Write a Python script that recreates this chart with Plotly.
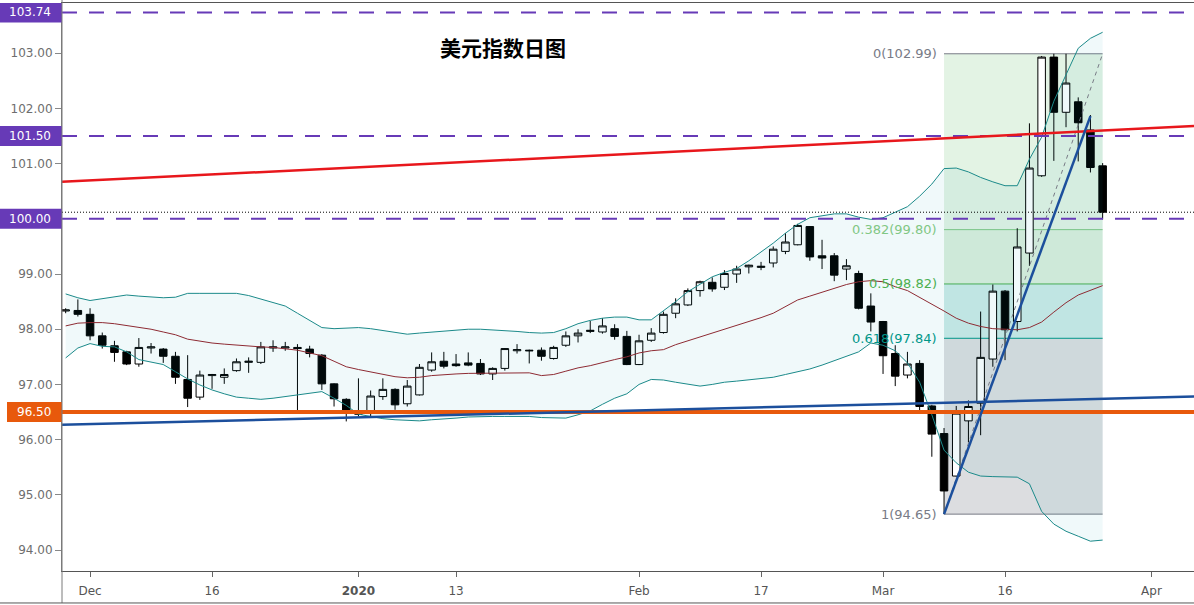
import plotly.graph_objects as go

# ---------------- data ----------------
dates = [
    "2019-11-28", "2019-11-29",
    "2019-12-02", "2019-12-03", "2019-12-04", "2019-12-05", "2019-12-06",
    "2019-12-09", "2019-12-10", "2019-12-11", "2019-12-12", "2019-12-13",
    "2019-12-16", "2019-12-17", "2019-12-18", "2019-12-19", "2019-12-20",
    "2019-12-23", "2019-12-24", "2019-12-25", "2019-12-26", "2019-12-27",
    "2019-12-30", "2019-12-31",
    "2020-01-01", "2020-01-02", "2020-01-03",
    "2020-01-06", "2020-01-07", "2020-01-08", "2020-01-09", "2020-01-10",
    "2020-01-13", "2020-01-14", "2020-01-15", "2020-01-16", "2020-01-17",
    "2020-01-20", "2020-01-21", "2020-01-22", "2020-01-23", "2020-01-24",
    "2020-01-27", "2020-01-28", "2020-01-29", "2020-01-30", "2020-01-31",
    "2020-02-03", "2020-02-04", "2020-02-05", "2020-02-06", "2020-02-07",
    "2020-02-10", "2020-02-11", "2020-02-12", "2020-02-13", "2020-02-14",
    "2020-02-17", "2020-02-18", "2020-02-19", "2020-02-20", "2020-02-21",
    "2020-02-24", "2020-02-25", "2020-02-26", "2020-02-27", "2020-02-28",
    "2020-03-02", "2020-03-03", "2020-03-04", "2020-03-05", "2020-03-06",
    "2020-03-09", "2020-03-10", "2020-03-11", "2020-03-12", "2020-03-13",
    "2020-03-16", "2020-03-17", "2020-03-18", "2020-03-19", "2020-03-20",
    "2020-03-23", "2020-03-24", "2020-03-25", "2020-03-26",
]

opens = [
    98.33, 98.34, 98.27, 97.88, 97.70, 97.59, 97.37, 97.66, 97.64, 97.51,
    97.09, 96.77, 97.16, 97.13, 97.25, 97.40, 97.40, 97.66, 97.66, 97.67,
    97.64, 97.53, 97.01, 96.73, 96.49, 96.48, 96.78, 96.91, 96.65, 96.81,
    97.26, 97.42, 97.37, 97.39, 97.38, 97.19, 97.29, 97.61, 97.62, 97.62,
    97.47, 97.71, 97.88, 97.96, 97.95, 98.01, 97.87, 97.36, 97.80, 97.94,
    98.29, 98.44, 98.70, 98.85, 98.76, 99.00, 99.13, 99.12, 99.20, 99.41,
    99.53, 99.86, 99.33, 99.33, 99.09, 99.01, 98.42, 98.14, 97.56, 97.17,
    97.38, 96.61, 96.11, 95.34, 96.34, 96.66, 97.46, 98.69, 98.14, 99.38,
    100.78, 102.93, 101.93, 102.12, 101.61, 100.96,
]
highs = [
    98.38, 98.54, 98.38, 97.94, 97.79, 97.61, 97.84, 97.75, 97.66, 97.59,
    97.53, 97.25, 97.19, 97.29, 97.47, 97.49, 97.77, 97.80, 97.77, 97.73,
    97.70, 97.55, 97.02, 96.75, 97.11, 96.89, 97.11, 96.93, 97.08, 97.37,
    97.58, 97.59, 97.55, 97.58, 97.46, 97.31, 97.66, 97.73, 97.63, 97.67,
    97.70, 97.96, 98.00, 98.15, 98.20, 98.09, 97.97, 97.90, 98.02, 98.32,
    98.56, 98.74, 98.88, 98.94, 99.07, 99.15, 99.17, 99.22, 99.50, 99.74,
    99.91, 99.87, 99.62, 99.38, 99.27, 99.06, 98.65, 98.15, 97.71, 97.59,
    97.44, 96.63, 96.21, 96.61, 96.71, 98.32, 98.81, 98.71, 99.83, 101.73,
    102.95, 102.99, 102.99, 102.20, 101.88, 101.01,
]
lows = [
    98.29, 98.23, 97.80, 97.65, 97.41, 97.35, 97.32, 97.56, 97.39, 97.01,
    96.59, 96.72, 96.92, 97.01, 97.23, 97.21, 97.37, 97.59, 97.61, 96.51,
    97.49, 96.90, 96.60, 96.33, 96.42, 96.42, 96.72, 96.54, 96.60, 96.80,
    97.23, 97.29, 97.32, 97.33, 97.17, 97.08, 97.25, 97.56, 97.38, 97.43,
    97.45, 97.68, 97.76, 97.93, 97.92, 97.81, 97.35, 97.35, 97.77, 97.92,
    98.20, 98.42, 98.59, 98.68, 98.71, 98.84, 99.01, 99.07, 99.12, 99.36,
    99.52, 99.24, 99.09, 98.87, 98.89, 98.36, 97.96, 97.19, 96.97, 97.11,
    96.49, 95.69, 94.65, 95.33, 95.95, 96.08, 97.32, 97.44, 97.96, 99.15,
    100.76, 101.05, 101.66, 101.04, 100.84, 99.99,
]
closes = [
    98.35, 98.27, 97.88, 97.71, 97.58, 97.37, 97.67, 97.68, 97.51, 97.13,
    96.75, 97.17, 97.18, 97.18, 97.41, 97.42, 97.68, 97.68, 97.68, 97.65,
    97.56, 97.01, 96.74, 96.53, 96.46, 96.79, 96.91, 96.63, 96.97, 97.31,
    97.41, 97.33, 97.34, 97.35, 97.19, 97.29, 97.65, 97.63, 97.61, 97.51,
    97.67, 97.88, 97.93, 97.98, 98.06, 97.87, 97.36, 97.79, 97.93, 98.27,
    98.46, 98.70, 98.86, 98.73, 99.01, 99.09, 99.16, 99.14, 99.45, 99.58,
    99.88, 99.31, 99.29, 98.98, 99.15, 98.38, 98.13, 97.52, 97.15, 97.37,
    96.60, 96.10, 95.07, 96.48, 96.60, 97.49, 98.69, 97.99, 99.49, 100.92,
    102.93, 101.93, 102.46, 101.74, 100.93, 100.12,
]

bb_upper = [
    98.64, 98.57, 98.52, 98.55, 98.59, 98.62, 98.60, 98.58, 98.57, 98.58,
    98.65, 98.65, 98.65, 98.65, 98.65, 98.61, 98.55, 98.49, 98.42, 98.29,
    98.16, 98.03, 98.01, 98.02, 98.03, 98.01, 97.98, 97.94, 97.91, 97.93,
    97.95, 97.97, 97.98, 98.00, 98.00, 97.99, 97.98, 97.96, 97.94, 97.93,
    97.94, 98.01, 98.10, 98.16, 98.20, 98.22, 98.22, 98.17, 98.17, 98.33,
    98.50, 98.68, 98.81, 98.95, 99.03, 99.10, 99.24, 99.40, 99.56, 99.74,
    99.90, 100.02, 100.06, 100.09, 100.09, 100.03, 99.99, 100.02, 100.12, 100.22,
    100.41, 100.63, 100.91, 100.92, 100.85, 100.75, 100.67, 100.60, 100.60, 101.08,
    101.48, 102.13, 102.61, 103.09, 103.27, 103.38,
]
bb_mid = [
    98.06, 98.11, 98.12, 98.12, 98.10, 98.07, 98.04, 98.00, 97.95, 97.90,
    97.82, 97.78, 97.75, 97.73, 97.71, 97.69, 97.68, 97.67, 97.65, 97.62,
    97.57, 97.52, 97.42, 97.32, 97.27, 97.23, 97.18, 97.14, 97.12, 97.13,
    97.16, 97.18, 97.19, 97.20, 97.20, 97.20, 97.20, 97.21, 97.21, 97.16,
    97.18, 97.24, 97.30, 97.34, 97.40, 97.45, 97.50, 97.57, 97.61, 97.63,
    97.72, 97.79, 97.86, 97.93, 98.00, 98.06, 98.13, 98.21, 98.29, 98.41,
    98.53, 98.60, 98.67, 98.75, 98.81, 98.86, 98.88, 98.86, 98.77, 98.70,
    98.58, 98.46, 98.33, 98.20, 98.11, 98.05, 98.01, 98.00, 97.99, 98.03,
    98.13, 98.31, 98.48, 98.62, 98.71, 98.79,
]
bb_lower = [
    97.48, 97.66, 97.74, 97.69, 97.68, 97.59, 97.45, 97.41, 97.36, 97.23,
    97.10, 96.99, 96.90, 96.83, 96.77, 96.75, 96.73, 96.75, 96.78, 96.82,
    96.84, 96.87, 96.75, 96.62, 96.46, 96.42, 96.38, 96.36, 96.35, 96.34,
    96.36, 96.37, 96.39, 96.41, 96.42, 96.42, 96.42, 96.42, 96.42, 96.40,
    96.39, 96.39, 96.45, 96.52, 96.64, 96.75, 96.83, 97.00, 97.09, 97.08,
    97.04, 97.00, 96.97, 97.00, 97.04, 97.06, 97.08, 97.10, 97.13, 97.18,
    97.23, 97.28, 97.35, 97.43, 97.52, 97.59, 97.75, 97.71, 97.61, 97.39,
    97.04, 96.45, 95.81, 95.58, 95.41, 95.34, 95.33, 95.33, 95.32, 95.20,
    94.70, 94.47, 94.34, 94.25, 94.16, 94.18,
]

x_range = ["2019-11-27 16:48", "2020-04-06 11:45"]
y_range = [93.62, 103.91]

y_tick_vals = [94, 95, 96, 97, 98, 99, 100, 101, 102, 103]
x_tick_dates = ["2019-12-02", "2019-12-16", "2020-01-01", "2020-01-13", "2020-02-03",
                "2020-02-17", "2020-03-02", "2020-03-16", "2020-04-01"]
x_tick_text = ["Dec", "16", "<b>2020</b>", "13", "Feb", "17", "Mar", "16", "Apr"]

purple_levels = [103.74, 101.50, 100.00]
orange_level = 96.50
last_price = 100.12

red_trend = [x_range[0], 100.67, x_range[1], 101.68]
blue_trend = [x_range[0], 96.27, x_range[1], 96.78]
blue_short = ["2020-03-09", 94.65, "2020-03-25", 101.86]

fib_start, fib_end = "2020-03-09", "2020-03-26"
fib_low, fib_high = 94.65, 102.99
fib_ratios = [0, 0.382, 0.5, 0.618, 1]
fib_colors = ["#787b86", "#81c784", "#4caf50", "#009688", "#787b86"]
fib_fill = ["rgba(129,199,132,0.22)", "rgba(76,175,80,0.20)",
            "rgba(0,150,136,0.20)", "rgba(120,123,134,0.26)"]

title_text = "美元指数日图"

# ---------------- figure ----------------
PURPLE = "#673ab7"
ORANGE = "#e8590c"
BLUE = "#1c4f9c"
RED = "#e8171c"
TEAL = "#1b8a8a"
MAROON = "#8e2b33"

fig = go.Figure()

fig.add_trace(go.Scatter(x=dates, y=bb_lower, mode="lines",
                         line=dict(color=TEAL, width=1), hoverinfo="skip", showlegend=False))
fig.add_trace(go.Scatter(x=dates, y=bb_upper, mode="lines", fill="tonexty",
                         fillcolor="rgba(0,150,170,0.06)",
                         line=dict(color=TEAL, width=1), hoverinfo="skip", showlegend=False))
fig.add_trace(go.Scatter(x=dates, y=bb_mid, mode="lines",
                         line=dict(color=MAROON, width=1), hoverinfo="skip", showlegend=False))

fig.add_trace(go.Candlestick(
    x=dates, open=opens, high=highs, low=lows, close=closes,
    increasing=dict(line=dict(color="black", width=1), fillcolor="white"),
    decreasing=dict(line=dict(color="black", width=1), fillcolor="black"),
    whiskerwidth=0, showlegend=False, hoverinfo="skip",
))

shapes = []
fib_vals = [fib_high - r * (fib_high - fib_low) for r in fib_ratios]
for i in range(len(fib_vals) - 1):
    shapes.append(dict(type="rect", xref="x", yref="y", x0=fib_start, x1=fib_end,
                       y0=fib_vals[i + 1], y1=fib_vals[i], fillcolor=fib_fill[i],
                       line=dict(width=0), layer="below"))
for v, c in zip(fib_vals, fib_colors):
    shapes.append(dict(type="line", xref="x", yref="y", x0=fib_start, x1=fib_end,
                       y0=v, y1=v, line=dict(color=c, width=1), layer="below"))

# fib diagonal
shapes.append(dict(type="line", xref="x", yref="y", x0=fib_start, y0=fib_low,
                   x1=fib_end, y1=fib_high,
                   line=dict(color="#787b86", width=1, dash="4px,4px")))

# horizontal levels
for v in purple_levels:
    shapes.append(dict(type="line", xref="paper", yref="y", x0=0, x1=1, y0=v, y1=v,
                       line=dict(color=PURPLE, width=2, dash="15px,12px")))
shapes.append(dict(type="line", xref="paper", yref="y", x0=0, x1=1, y0=last_price, y1=last_price,
                   line=dict(color="black", width=1, dash="1px,2px")))
shapes.append(dict(type="line", xref="paper", yref="y", x0=0, x1=1, y0=orange_level, y1=orange_level,
                   line=dict(color=ORANGE, width=4)))

# trend lines
for ln, col in [(red_trend, RED), (blue_trend, BLUE), (blue_short, BLUE)]:
    shapes.append(dict(type="line", xref="x", yref="y", x0=ln[0], y0=ln[1], x1=ln[2], y1=ln[3],
                       line=dict(color=col, width=2.5)))

# axis label boxes
for v in purple_levels:
    shapes.append(dict(type="rect", xref="paper", yref="y", xsizemode="pixel", xanchor=0,
                       x0=-62, x1=0, ysizemode="pixel", yanchor=v, y0=-10, y1=10,
                       fillcolor=PURPLE, line=dict(width=0)))
shapes.append(dict(type="rect", xref="paper", yref="y", xsizemode="pixel", xanchor=0,
                   x0=-55, x1=0, ysizemode="pixel", yanchor=orange_level, y0=-10, y1=10,
                   fillcolor=ORANGE, line=dict(width=0)))

# frame lines
shapes.append(dict(type="line", xref="paper", yref="paper", x0=0, x1=0, y0=-0.0563, y1=1.006,
                   line=dict(color="#7a7a7a", width=1)))
shapes.append(dict(type="line", xref="paper", yref="paper", x0=-0.0548, x1=1, y0=-0.0563, y1=-0.0563,
                   line=dict(color="#555555", width=1)))

annotations = []
for v in purple_levels:
    annotations.append(dict(x=0, xref="paper", y=v, yref="y", xanchor="right", yanchor="middle",
                            xshift=-9, text=f"{v:.2f}", showarrow=False,
                            font=dict(color="white", size=12, family="DejaVu Sans")))
annotations.append(dict(x=0, xref="paper", y=orange_level, yref="y", xanchor="right", yanchor="middle",
                        xshift=-9, text=f"{orange_level:.2f}", showarrow=False,
                        font=dict(color="white", size=12, family="DejaVu Sans")))

for r, v, c in zip(fib_ratios, fib_vals, fib_colors):
    annotations.append(dict(x=fib_start, xref="x", y=v, yref="y", xanchor="right", yanchor="middle",
                            xshift=-5, text=f"{r:g}({v:.2f})", showarrow=False,
                            font=dict(color=c, size=13, family="DejaVu Sans")))

annotations.append(dict(x=0.3896, xref="paper", y=0.9225, yref="paper", xanchor="center",
                        yanchor="middle", text=f"<b>{title_text}</b>", showarrow=False,
                        font=dict(color="black", size=21, family="Noto Sans CJK SC")))

fig.update_layout(
    width=1194, height=605,
    margin=dict(l=62, r=0, t=3, b=34),
    paper_bgcolor="white", plot_bgcolor="white",
    font=dict(family="DejaVu Sans", size=12, color="#555555"),
    shapes=shapes, annotations=annotations,
    showlegend=False, boxgap=0.35, boxgroupgap=0.05,
    xaxis=dict(
        type="date", range=x_range,
        rangebreaks=[dict(bounds=["sat", "mon"])],
        rangeslider=dict(visible=False),
        tickvals=x_tick_dates, ticktext=x_tick_text,
        ticks="outside", ticklen=5, tickcolor="#666666",
        showline=True, linecolor="#555555", linewidth=1, mirror=True,
        showgrid=False, zeroline=False,
        tickfont=dict(size=12, color="#555555", family="DejaVu Sans"),
        ticklabelstandoff=4,
    ),
    yaxis=dict(
        range=y_range, tickvals=y_tick_vals,
        ticktext=[f"{v:.2f}" for v in y_tick_vals],
        ticks="outside", ticklen=6, tickcolor="#888888",
        showline=True, linecolor="#7a7a7a", linewidth=1,
        showgrid=False, zeroline=False,
        tickfont=dict(size=12, color="#6e6e6e", family="DejaVu Sans"),
    ),
)

fig.write_html("out.html")
